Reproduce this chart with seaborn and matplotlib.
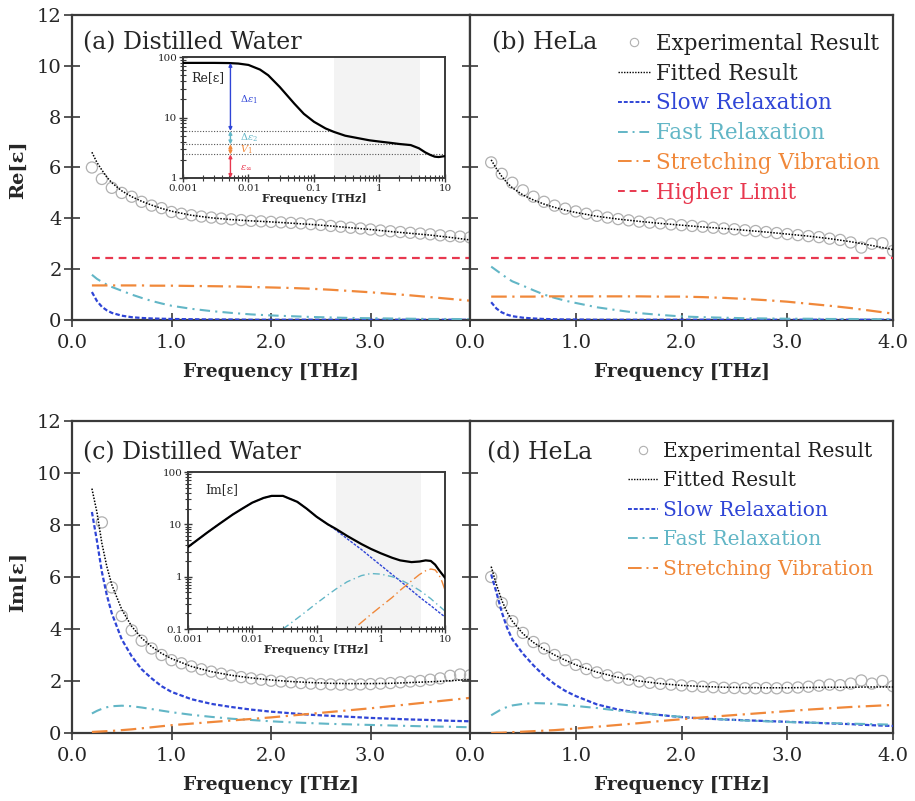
import matplotlib
matplotlib.use('Agg')
import matplotlib.pyplot as plt
import seaborn as sns
from matplotlib.lines import Line2D
from matplotlib.ticker import FuncFormatter, LogLocator, NullFormatter

sns.set_style('ticks')
plt.rcParams['font.family'] = ['DejaVu Serif']
plt.rcParams['mathtext.fontset'] = 'dejavuserif'

# ---------------- data ----------------
# frequency grid of the fitted curves [THz]
freq = [0.2, 0.25, 0.3, 0.35, 0.4, 0.5, 0.6, 0.7, 0.8, 0.9, 1.0, 1.2, 1.4, 1.6,
        1.8, 2.0, 2.2, 2.4, 2.6, 2.8, 3.0, 3.2, 3.4, 3.6, 3.8, 4.0]

# measured points [THz]
exp_freq = [0.2, 0.3, 0.4, 0.5, 0.6, 0.7, 0.8, 0.9, 1.0, 1.1, 1.2, 1.3, 1.4,
            1.5, 1.6, 1.7, 1.8, 1.9, 2.0, 2.1, 2.2, 2.3, 2.4, 2.5, 2.6, 2.7,
            2.8, 2.9, 3.0, 3.1, 3.2, 3.3, 3.4, 3.5, 3.6, 3.7, 3.8, 3.9, 4.0]
exp_freq_c = exp_freq[1:]

# (a) distilled water, Re
exp_a = [6.0, 5.55, 5.2, 5.0, 4.85, 4.65, 4.5, 4.4, 4.25,
         4.18, 4.12, 4.07, 4.03, 3.99, 3.96, 3.93, 3.9, 3.88, 3.86,
         3.84, 3.82, 3.8, 3.77, 3.74, 3.7, 3.67, 3.63, 3.6, 3.56,
         3.52, 3.49, 3.46, 3.43, 3.4, 3.37, 3.33, 3.3, 3.28, 3.25]
fit_a = [6.6, 6.2, 5.9, 5.62, 5.4, 5.08, 4.85, 4.67, 4.52, 4.39, 4.28, 4.12, 4.02,
         3.95, 3.9, 3.86, 3.81, 3.76, 3.7, 3.63, 3.56, 3.48, 3.41, 3.34, 3.25, 3.15]
slow_a = [1.1, 0.75, 0.52, 0.38, 0.28, 0.17, 0.11, 0.08, 0.06, 0.05, 0.04, 0.03, 0.02,
          0.02, 0.01, 0.01, 0.01, 0.01, 0.01, 0.01, 0.01, 0.01, 0.01, 0.01, 0.01, 0.01]
fast_a = [1.78, 1.62, 1.5, 1.39, 1.3, 1.15, 1.0, 0.87, 0.75, 0.65, 0.56, 0.44, 0.35,
          0.28, 0.22, 0.18, 0.15, 0.12, 0.1, 0.08, 0.07, 0.06, 0.05, 0.04, 0.04, 0.03]
stretch_a = [1.36, 1.36, 1.36, 1.36, 1.36, 1.36, 1.36, 1.36, 1.35, 1.35, 1.35, 1.34, 1.33,
             1.32, 1.3, 1.28, 1.26, 1.23, 1.19, 1.14, 1.09, 1.03, 0.97, 0.9, 0.83, 0.76]
limit_a = [2.45] * len(freq)

# (b) HeLa, Re
exp_b = [6.2, 5.75, 5.4, 5.1, 4.85, 4.65, 4.5, 4.38, 4.27,
         4.18, 4.1, 4.03, 3.97, 3.92, 3.87, 3.83, 3.8, 3.76, 3.73,
         3.7, 3.67, 3.63, 3.6, 3.57, 3.53, 3.5, 3.46, 3.42, 3.38,
         3.34, 3.3, 3.26, 3.2, 3.15, 3.05, 2.85, 3.0, 3.02, 2.72]
fit_b = [6.3, 5.95, 5.65, 5.4, 5.2, 4.92, 4.72, 4.56, 4.43, 4.32, 4.23, 4.08, 3.97,
         3.88, 3.8, 3.73, 3.66, 3.6, 3.53, 3.46, 3.38, 3.3, 3.2, 3.08, 2.93, 2.77]
slow_b = [0.7, 0.45, 0.3, 0.21, 0.15, 0.09, 0.06, 0.04, 0.03, 0.02, 0.02, 0.01, 0.01,
          0.01, 0.01, 0.01, 0.01, 0.01, 0.01, 0.01, 0.01, 0.01, 0.01, 0.01, 0.01, 0.01]
fast_b = [2.1, 1.95, 1.8, 1.65, 1.52, 1.35, 1.17, 1.0, 0.87, 0.76, 0.67, 0.5, 0.38,
          0.27, 0.2, 0.14, 0.11, 0.09, 0.07, 0.06, 0.05, 0.05, 0.04, 0.04, 0.03, 0.03]
stretch_b = [0.92, 0.92, 0.92, 0.92, 0.92, 0.92, 0.92, 0.93, 0.93, 0.93, 0.93, 0.93, 0.93,
             0.93, 0.92, 0.92, 0.9, 0.87, 0.83, 0.78, 0.72, 0.64, 0.56, 0.47, 0.36, 0.25]
limit_b = [2.45] * len(freq)

# (c) distilled water, Im
exp_c = [8.1, 5.6, 4.5, 3.95, 3.55, 3.25, 3.0, 2.8,
         2.68, 2.56, 2.45, 2.36, 2.28, 2.21, 2.15, 2.1, 2.05, 2.01,
         1.98, 1.95, 1.92, 1.9, 1.88, 1.87, 1.86, 1.86, 1.87, 1.88,
         1.9, 1.92, 1.95, 1.98, 2.0, 2.05, 2.1, 2.2, 2.25, 2.22]
fit_c = [9.4, 8.5, 7.3, 6.4, 5.7, 4.75, 4.1, 3.65, 3.32, 3.06, 2.86, 2.56, 2.36,
         2.22, 2.12, 2.04, 1.98, 1.94, 1.91, 1.9, 1.9, 1.91, 1.94, 1.97, 2.01, 2.06]
slow_c = [8.5, 7.4, 6.2, 5.3, 4.6, 3.6, 2.95, 2.45, 2.1, 1.8, 1.58, 1.3, 1.12,
          1.0, 0.9, 0.82, 0.76, 0.7, 0.66, 0.62, 0.58, 0.55, 0.52, 0.5, 0.47, 0.45]
fast_c = [0.75, 0.85, 0.93, 0.99, 1.03, 1.05, 1.03, 0.98, 0.92, 0.86, 0.8, 0.7, 0.62,
          0.55, 0.5, 0.45, 0.41, 0.38, 0.35, 0.33, 0.31, 0.29, 0.27, 0.25, 0.24, 0.22]
stretch_c = [0.04, 0.05, 0.06, 0.07, 0.08, 0.11, 0.14, 0.18, 0.22, 0.26, 0.3, 0.36, 0.42,
             0.48, 0.54, 0.6, 0.67, 0.74, 0.81, 0.88, 0.95, 1.03, 1.11, 1.19, 1.27, 1.35]

# (d) HeLa, Im
exp_d = [6.0, 5.0, 4.3, 3.85, 3.5, 3.25, 3.0, 2.8, 2.62,
         2.46, 2.33, 2.22, 2.13, 2.05, 1.98, 1.93, 1.89, 1.86, 1.83,
         1.8, 1.78, 1.76, 1.74, 1.73, 1.72, 1.72, 1.73, 1.72, 1.74,
         1.75, 1.78, 1.82, 1.86, 1.84, 1.9, 2.02, 1.9, 2.0, 1.8]
fit_d = [6.4, 5.7, 5.1, 4.65, 4.3, 3.82, 3.48, 3.22, 3.0, 2.8, 2.62, 2.34, 2.14,
         2.0, 1.9, 1.83, 1.79, 1.76, 1.75, 1.74, 1.74, 1.75, 1.76, 1.76, 1.77, 1.77]
slow_d = [6.1, 5.4, 4.65, 4.05, 3.6, 3.05, 2.6, 2.2, 1.88, 1.62, 1.42, 1.1, 0.9,
          0.78, 0.69, 0.61, 0.56, 0.52, 0.49, 0.46, 0.43, 0.4, 0.37, 0.34, 0.3, 0.27]
fast_d = [0.68, 0.8, 0.92, 1.0, 1.06, 1.12, 1.15, 1.14, 1.12, 1.08, 1.04, 0.96, 0.86,
          0.77, 0.69, 0.62, 0.56, 0.52, 0.48, 0.45, 0.42, 0.4, 0.38, 0.36, 0.34, 0.32]
stretch_d = [0.0, 0.01, 0.01, 0.02, 0.03, 0.05, 0.07, 0.09, 0.11, 0.14, 0.17, 0.24, 0.31,
             0.38, 0.46, 0.53, 0.6, 0.66, 0.72, 0.78, 0.84, 0.9, 0.95, 1.0, 1.04, 1.08]

# insets: broadband spectra of water (log scale)
ins_freq = [0.001, 0.002, 0.003, 0.005, 0.007, 0.01, 0.015, 0.02, 0.03, 0.05, 0.07,
            0.1, 0.15, 0.2, 0.3, 0.5, 0.7, 1, 1.5, 2, 3, 4, 5, 6, 7, 8, 10]
ins_re = [80, 80, 80, 79.5, 78, 74, 62, 50, 32, 17, 11.5, 8.5, 6.6, 5.8, 5.0, 4.5,
          4.2, 4.0, 3.8, 3.65, 3.5, 3.1, 2.65, 2.4, 2.25, 2.22, 2.3]
ins_im = [3.7, 7, 10, 15.5, 20, 26, 32, 35, 35, 27, 20, 14, 10, 8.2, 6.0, 4.2,
          3.4, 2.8, 2.3, 2.05, 1.9, 1.95, 2.05, 2.0, 1.7, 1.35, 0.95]
ins_slow = [3.7, 7, 10, 15.5, 20, 26, 32, 35, 35, 27, 20, 14, 10, 7.8, 5.3, 3.3,
            2.35, 1.65, 1.1, 0.83, 0.55, 0.41, 0.33, 0.28, 0.24, 0.21, 0.17]
ins_fast_freq = [0.03, 0.05, 0.07, 0.1, 0.15, 0.2, 0.3, 0.5, 0.7, 1, 1.5, 2, 3, 4,
                 5, 6, 7, 8, 10]
ins_fast = [0.1, 0.16, 0.22, 0.31, 0.45, 0.58, 0.8, 1.05, 1.15, 1.12, 1.0, 0.88,
            0.68, 0.55, 0.45, 0.38, 0.32, 0.28, 0.22]
ins_str_freq = [0.45, 0.7, 1, 1.5, 2, 3, 4, 5, 6, 7, 8, 9, 10]
ins_str = [0.12, 0.19, 0.27, 0.4, 0.55, 0.83, 1.1, 1.3, 1.4, 1.35, 1.1, 0.8, 0.55]
ins_levels = [6.0, 3.6, 2.45]

# ---------------- style ----------------
BLUE = '#2f45d6'
CYAN = '#62b6c6'
ORANGE = '#f0883a'
RED = '#e8384f'
GREY = '#b0b0b0'
SPINE = '#3a3a3a'
LS_FIT = (0, (1, 1))
LS_SLOW = (0, (2, 1))
LS_FAST = (0, (5, 2.5, 1, 2.5))
LS_STR = (0, (7, 2.5, 1, 2.5))
LS_LIM = (0, (3.5, 2.5))


def style_main(ax, ylabels=True, last_label=True):
    ax.set_xlim(0, 4)
    ax.set_ylim(0, 12)
    ax.set_xticks([0, 1, 2, 3, 4])
    labs = ['0.0', '1.0', '2.0', '3.0', '4.0' if last_label else '']
    ax.set_xticklabels(labs)
    ax.set_yticks(range(0, 13, 2))
    ax.tick_params(axis='both', direction='inout', labelsize=14, color=SPINE, width=1.2)
    ax.tick_params(axis='y', length=11, pad=2, labelleft=ylabels)
    ax.tick_params(axis='x', length=10, pad=5)
    for s in ax.spines.values():
        s.set_visible(True)
        s.set_linewidth(1.6)
        s.set_color(SPINE)
    ax.set_xlabel('Frequency [THz]', fontsize=13.5, fontweight='bold', labelpad=8)
    ax.set_ylabel('')


def draw_panel(ax, exp_x, exp_y, fit, slow, fast, stretch, limit=None):
    sns.scatterplot(x=exp_x, y=exp_y, ax=ax, marker='o', s=64, facecolors='none',
                    edgecolor=GREY, linewidth=0.9, zorder=2, legend=False)
    sns.lineplot(x=freq, y=fit, ax=ax, color='black', lw=1.1, linestyle=LS_FIT, zorder=4)
    sns.lineplot(x=freq, y=slow, ax=ax, color=BLUE, lw=1.6, linestyle=LS_SLOW, zorder=3)
    sns.lineplot(x=freq, y=fast, ax=ax, color=CYAN, lw=1.5, linestyle=LS_FAST, zorder=3)
    sns.lineplot(x=freq, y=stretch, ax=ax, color=ORANGE, lw=1.6, linestyle=LS_STR, zorder=3)
    if limit is not None:
        sns.lineplot(x=freq, y=limit, ax=ax, color=RED, lw=1.6, linestyle=LS_LIM, zorder=3)


def legend_for(ax, with_limit, anchor, size, spacing):
    handles = [Line2D([], [], marker='o', ls='none', mfc='none', mec=GREY, ms=6, mew=0.8),
               Line2D([], [], color='black', lw=1.0, ls=LS_FIT),
               Line2D([], [], color=BLUE, lw=1.4, ls=LS_SLOW),
               Line2D([], [], color=CYAN, lw=1.4, ls=LS_FAST),
               Line2D([], [], color=ORANGE, lw=1.4, ls=LS_STR)]
    labels = ['Experimental Result', 'Fitted Result', 'Slow Relaxation',
              'Fast Relaxation', 'Stretching Vibration']
    colors = ['#222222', '#222222', BLUE, CYAN, ORANGE]
    if with_limit:
        handles.append(Line2D([], [], color=RED, lw=1.4, ls=LS_LIM))
        labels.append('Higher Limit')
        colors.append(RED)
    ax.legend(handles, labels, loc='upper left', bbox_to_anchor=anchor, frameon=False,
              fontsize=size, labelcolor=colors, handlelength=1.5, handletextpad=0.25,
              labelspacing=spacing, borderpad=0, borderaxespad=0)


def style_inset(ax, ymin, ymax):
    ax.set_xscale('log')
    ax.set_yscale('log')
    ax.set_xlim(0.001, 10)
    ax.set_ylim(ymin, ymax)
    fmt = FuncFormatter(lambda v, p: '{:g}'.format(v))
    ax.xaxis.set_major_formatter(fmt)
    ax.yaxis.set_major_formatter(fmt)
    ax.xaxis.set_minor_locator(LogLocator(base=10, subs=range(2, 10), numticks=20))
    ax.yaxis.set_minor_locator(LogLocator(base=10, subs=range(2, 10), numticks=20))
    ax.xaxis.set_minor_formatter(NullFormatter())
    ax.yaxis.set_minor_formatter(NullFormatter())
    ax.tick_params(which='major', direction='inout', length=6, width=1, labelsize=7.5,
                   pad=1, color=SPINE)
    ax.tick_params(which='minor', direction='inout', length=4, width=0.8, color=SPINE)
    for s in ax.spines.values():
        s.set_visible(True)
        s.set_linewidth(1.4)
        s.set_color(SPINE)
    ax.axvspan(0.2, 4.2, color='#f3f3f3', zorder=0, lw=0)
    ax.set_xlabel('Frequency [THz]', fontsize=8, fontweight='bold', labelpad=0)
    ax.set_ylabel('')


fig = plt.figure(figsize=(9.15, 8.01), dpi=100)
ax_a = fig.add_axes([0.0787, 0.6005, 0.435, 0.3808])
ax_b = fig.add_axes([0.5137, 0.6005, 0.4623, 0.3808])
ax_c = fig.add_axes([0.0787, 0.0849, 0.435, 0.3895])
ax_d = fig.add_axes([0.5137, 0.0849, 0.4623, 0.3895])

draw_panel(ax_a, exp_freq, exp_a, fit_a, slow_a, fast_a, stretch_a, limit_a)
draw_panel(ax_b, exp_freq, exp_b, fit_b, slow_b, fast_b, stretch_b, limit_b)
draw_panel(ax_c, exp_freq_c, exp_c, fit_c, slow_c, fast_c, stretch_c)
draw_panel(ax_d, exp_freq, exp_d, fit_d, slow_d, fast_d, stretch_d)

style_main(ax_a, True, False)
style_main(ax_b, False, True)
style_main(ax_c, True, False)
style_main(ax_d, False, True)

ax_a.text(0.028, 0.91, '(a) Distilled Water', transform=ax_a.transAxes, fontsize=17, va='center')
ax_b.text(0.052, 0.908, '(b) HeLa', transform=ax_b.transAxes, fontsize=17, va='center')
ax_c.text(0.028, 0.90, '(c) Distilled Water', transform=ax_c.transAxes, fontsize=17, va='center')
ax_d.text(0.04, 0.90, '(d) HeLa', transform=ax_d.transAxes, fontsize=17, va='center')

legend_for(ax_b, True, (0.35, 0.941), 15.5, 0.36)
legend_for(ax_d, False, (0.373, 0.933), 14.5, 0.52)

fig.text(18 / 915, 1 - 170 / 801, 'Re[ε]', rotation=90, fontsize=14, fontweight='bold',
         ha='center', va='center')
fig.text(18 / 915, 1 - 582 / 801, 'Im[ε]', rotation=90, fontsize=14, fontweight='bold',
         ha='center', va='center')

# inset (a)
ins_a = fig.add_axes([0.2, 0.7778, 0.2863, 0.151])
style_inset(ins_a, 1, 100)
for lev, end in zip(ins_levels, [0.2, 2.5, 10]):
    ins_a.plot([0.001, end], [lev, lev], color='#555555', lw=0.8, ls=(0, (1, 1.5)), zorder=1)
sns.lineplot(x=ins_freq, y=ins_re, ax=ins_a, color='black', lw=1.6, zorder=3)
arrow_x = 0.0053
for top, bot, col in [(80, ins_levels[0], BLUE), (ins_levels[0], ins_levels[1], CYAN),
                      (ins_levels[1], ins_levels[2], ORANGE), (ins_levels[2], 1.0, RED)]:
    ins_a.annotate('', xy=(arrow_x, bot), xytext=(arrow_x, top),
                   arrowprops=dict(arrowstyle='<|-|>', color=col, lw=1.0,
                                   mutation_scale=5, shrinkA=0, shrinkB=0), zorder=4)
ins_a.text(0.0075, 20, r'$\Delta\varepsilon_1$', color=BLUE, fontsize=7, va='center')
ins_a.text(0.0075, 4.7, r'$\Delta\varepsilon_2$', color=CYAN, fontsize=7, va='center')
ins_a.text(0.0075, 2.95, r'$V_1$', color=ORANGE, fontsize=7, va='center')
ins_a.text(0.0075, 1.5, r'$\varepsilon_\infty$', color=RED, fontsize=7, va='center')
ins_a.text(0.03, 0.83, 'Re[ε]', transform=ins_a.transAxes, fontsize=9, va='center')

# inset (c)
ins_c = fig.add_axes([0.2055, 0.2147, 0.2809, 0.196])
style_inset(ins_c, 0.1, 100)
sns.lineplot(x=ins_freq, y=ins_slow, ax=ins_c, color=BLUE, lw=1.0, linestyle=(0, (2, 1)), zorder=2)
sns.lineplot(x=ins_fast_freq, y=ins_fast, ax=ins_c, color=CYAN, lw=1.0, linestyle=LS_FAST, zorder=2)
sns.lineplot(x=ins_str_freq, y=ins_str, ax=ins_c, color=ORANGE, lw=1.0, linestyle=LS_STR, zorder=2)
sns.lineplot(x=ins_freq, y=ins_im, ax=ins_c, color='black', lw=1.6, zorder=3)
ins_c.text(0.066, 0.885, 'Im[ε]', transform=ins_c.transAxes, fontsize=9, va='center')

fig.savefig('out.png', dpi=100)
